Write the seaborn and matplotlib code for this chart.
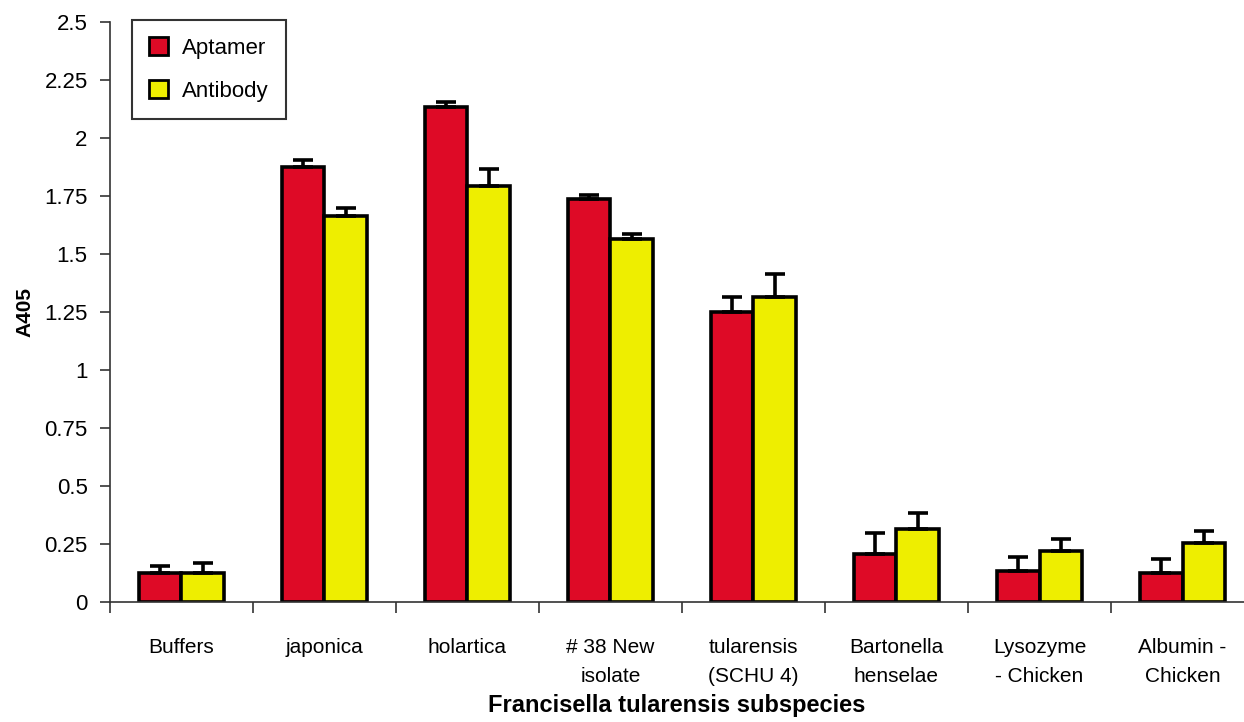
import numpy as np
import pandas as pd
import seaborn as sns
import matplotlib.pyplot as plt
from matplotlib.ticker import FixedLocator

# Values
categories = ["Buffers", "japonica", "holartica", "# 38 New\nisolate",
              "tularensis\n(SCHU 4)", "Bartonella\nhenselae",
              "Lysozyme\n- Chicken", "Albumin -\nChicken"]
aptamer = [0.125, 1.875, 2.135, 1.737, 1.25, 0.207, 0.134, 0.125]
aptamer_err = [0.03, 0.03, 0.02, 0.017, 0.065, 0.09, 0.06, 0.06]
antibody = [0.125, 1.664, 1.793, 1.565, 1.315, 0.315, 0.22, 0.254]
antibody_err = [0.045, 0.036, 0.073, 0.021, 0.098, 0.068, 0.05, 0.05]
series = ["Aptamer", "Antibody"]
y_ticks = [0, 0.25, 0.5, 0.75, 1, 1.25, 1.5, 1.75, 2, 2.25, 2.5]
y_tick_labels = ["0", "0.25", "0.5", "0.75", "1", "1.25", "1.5", "1.75", "2", "2.25", "2.5"]

df = pd.DataFrame({
    "category": categories * 2,
    "series": [series[0]] * len(categories) + [series[1]] * len(categories),
    "value": aptamer + antibody,
    "err": aptamer_err + antibody_err,
})

sns.set_style("white")
plt.rcParams['font.family'] = ['Liberation Sans', 'DejaVu Sans']
plt.rcParams['text.color'] = 'black'
plt.rcParams['axes.labelcolor'] = 'black'
plt.rcParams['xtick.color'] = 'black'
plt.rcParams['ytick.color'] = 'black'

fig = plt.figure(figsize=(12.44, 7.22), dpi=100)
ax = fig.add_axes([0.0884, 0.1662, 0.9116, 0.8033])

palette = {"Aptamer": "#DE0A26", "Antibody": "#EEEE00"}
sns.barplot(data=df, x="category", y="value", hue="series", palette=palette,
            width=0.59, edgecolor="black", linewidth=2.6, errorbar=None,
            saturation=1, ax=ax)

# upper-only error bars on top of each bar
for container, s in zip(ax.containers, series):
    sub = df[df["series"] == s]
    xs = [p.get_x() + p.get_width() / 2 for p in container]
    ax.errorbar(xs, sub["value"], yerr=[np.zeros(len(sub)), sub["err"]],
                fmt="none", ecolor="black", elinewidth=2.6, capsize=7.5,
                capthick=2.6, zorder=1)

ax.set_ylim(0, 2.5)
ax.set_xlim(-0.5, 7.43)
ax.set_yticks(y_ticks)
ax.set_yticklabels(y_tick_labels, fontsize=16)
ax.set_xticks(range(len(categories)))
ax.set_xticklabels(categories, fontsize=15, linespacing=1.65)
ax.xaxis.set_minor_locator(FixedLocator(np.arange(-0.5, 8, 1)))
ax.tick_params(axis="x", which="major", length=0, pad=26)
ax.tick_params(axis="x", which="minor", length=8, width=1.2, color="#333333", direction="out", bottom=True)
ax.tick_params(axis="y", length=7, width=1.2, color="#333333", direction="out", left=True, pad=9)

for side in ["top", "right"]:
    ax.spines[side].set_visible(False)
for side in ["left", "bottom"]:
    ax.spines[side].set_color("#333333")
    ax.spines[side].set_linewidth(1.2)

ax.set_xlabel("Francisella tularensis subspecies", fontsize=17, fontweight="bold", labelpad=6)
ax.set_ylabel("A405", fontsize=15, fontweight="bold", labelpad=7)

leg = ax.legend(loc="upper left", bbox_to_anchor=(0.019, 1.004), borderaxespad=0,
                fontsize=16, frameon=True, fancybox=False, edgecolor="black",
                handlelength=0.85, handleheight=0.85, labelspacing=0.95,
                borderpad=0.8, handletextpad=0.6)
leg.get_frame().set_linewidth(1.5)
for h in leg.legend_handles:
    h.set_edgecolor("black")
    h.set_linewidth(2)

fig.savefig("out.png", dpi=100)
